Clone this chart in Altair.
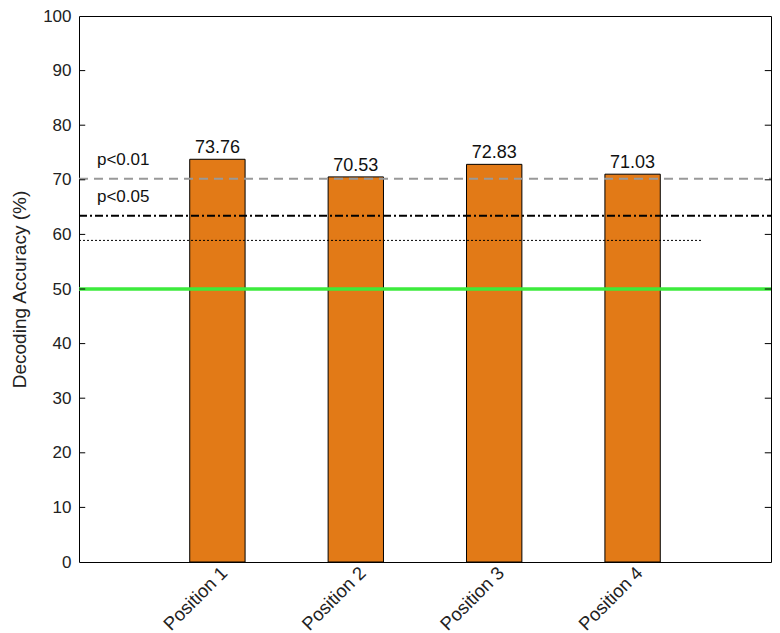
import altair as alt
import pandas as pd

positions = ["Position 1", "Position 2", "Position 3", "Position 4"]
x_pos = [1, 2, 3, 4]
accuracy = [73.76, 70.53, 72.83, 71.03]
label_text = ["73.76", "70.53", "72.83", "71.03"]

p01_level = 70.2
p05_level = 63.4
dotted_level = 58.9
chance_level = 50
dotted_end = 4.5
y_ticks = [0, 10, 20, 30, 40, 50, 60, 70, 80, 90, 100]
x_min, x_max = 0, 5
half_w = 0.2

bars_df = pd.DataFrame({
    "pos": x_pos, "name": positions, "acc": accuracy, "lab": label_text,
    "x0": [p - half_w for p in x_pos], "x1": [p + half_w for p in x_pos],
})

xs = alt.Scale(domain=[x_min, x_max], nice=False, zero=False)
ys = alt.Scale(domain=[0, 100], nice=False)

label_expr = "{1:'Position 1',2:'Position 2',3:'Position 3',4:'Position 4'}[datum.value]"
FONT = "Liberation Sans"

bars = alt.Chart(bars_df).mark_bar(color="#E27A17", stroke="#000000", strokeWidth=1).encode(
    x=alt.X("x0:Q", scale=xs, axis=alt.Axis(
        values=x_pos, labelExpr=label_expr, title=None, labelAngle=-45, labelAlign="right",
        labelBaseline="top", labelFontSize=18.5, labelColor="#222222", ticks=False, domain=False,
        grid=False, labelPadding=1, labelFont=FONT)),
    x2="x1:Q",
    y=alt.Y("acc:Q", scale=ys, axis=alt.Axis(
        values=y_ticks, title="Decoding Accuracy (%)", titleFontSize=19, titleFontWeight="normal",
        titleColor="#222222", titleFont=FONT, labelFontSize=17, labelColor="#222222",
        labelFont=FONT, ticks=False, domain=False, grid=False, labelPadding=8,
        titlePadding=13)),
    y2=alt.datum(0),
)

texts = alt.Chart(bars_df).mark_text(fontSize=18, font=FONT, color="#111111",
                                     baseline="bottom", dy=-2).encode(
    x=alt.X("pos:Q", scale=xs), y=alt.Y("acc:Q", scale=ys), text="lab:N")

def hline(level, x_end, **kw):
    df = pd.DataFrame({"xa": [x_min], "xb": [x_end], "y": [level]})
    return alt.Chart(df).mark_rule(**kw).encode(
        x=alt.X("xa:Q", scale=xs), x2="xb:Q", y=alt.Y("y:Q", scale=ys))

dashed = hline(p01_level, x_max, color="#999999", strokeWidth=2, strokeDash=[9, 6])
dashdot = hline(p05_level, x_max, color="#000000", strokeWidth=2, strokeDash=[8, 3, 2, 3])
dotted = hline(dotted_level, dotted_end, color="#000000", strokeWidth=1, strokeDash=[2, 2])
chance = hline(chance_level, x_max, color="#3DEB3D", strokeWidth=3.5)

ann_df = pd.DataFrame({"x": [0.13, 0.13], "y": [73.7, 66.8], "t": ["p<0.01", "p<0.05"]})
ann = alt.Chart(ann_df).mark_text(fontSize=17, font=FONT, color="#111111",
                                  align="left", baseline="middle").encode(
    x=alt.X("x:Q", scale=xs), y=alt.Y("y:Q", scale=ys), text="t:N")

tick_df = pd.DataFrame({"y": y_ticks[1:-1]})
left_ticks = alt.Chart(tick_df).mark_rule(color="#000000", strokeWidth=1).encode(
    x=alt.datum(x_min, scale=xs), x2=alt.datum(0.045), y=alt.Y("y:Q", scale=ys))
right_ticks = alt.Chart(tick_df).mark_rule(color="#000000", strokeWidth=1).encode(
    x=alt.datum(x_max - 0.045, scale=xs), x2=alt.datum(x_max), y=alt.Y("y:Q", scale=ys))

chart = alt.layer(bars, texts, dashed, dashdot, dotted, chance, ann, left_ticks, right_ticks).properties(
    width=692, height=546,
    autosize=alt.AutoSizeParams(type="none"),
    padding={"left": 71, "top": 8, "right": 1, "bottom": 71},
    background="#ffffff",
).configure_view(stroke="#000000", strokeWidth=1)

chart.save("out.html", embed_options={"renderer": "svg", "actions": False})
